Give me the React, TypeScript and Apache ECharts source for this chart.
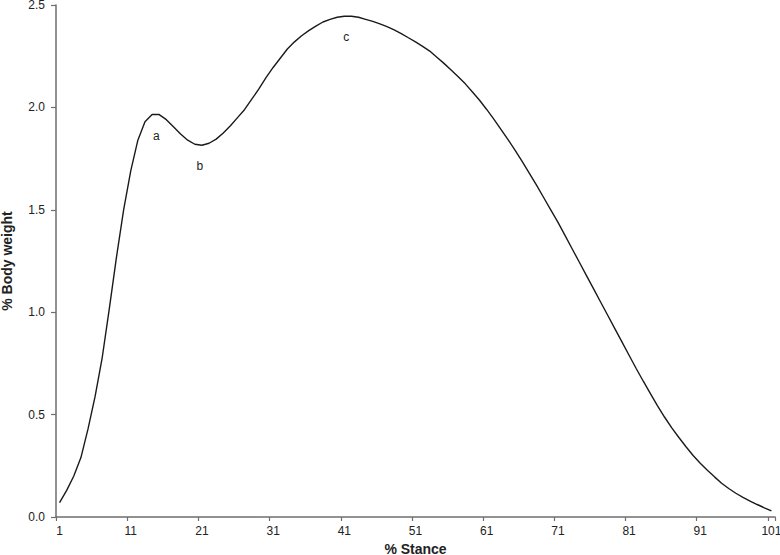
import React, { useEffect, useRef } from "react";
import * as echarts from "echarts";

const stance: string[] = Array.from({ length: 101 }, (_, i) => String(i + 1));

const bodyWeight: number[] = [
  0.07, 0.13, 0.2, 0.29, 0.43, 0.59, 0.78, 1.02, 1.27, 1.5,
  1.69, 1.84, 1.93, 1.965, 1.965, 1.94, 1.905, 1.87, 1.84, 1.82,
  1.815, 1.825, 1.845, 1.875, 1.91, 1.95, 1.99, 2.04, 2.09, 2.145,
  2.195, 2.24, 2.285, 2.32, 2.35, 2.375, 2.397, 2.417, 2.43, 2.44,
  2.445, 2.445, 2.44, 2.43, 2.42, 2.408, 2.394, 2.378, 2.36, 2.34,
  2.32, 2.298, 2.275, 2.245, 2.215, 2.183, 2.15, 2.115, 2.075, 2.035,
  1.99, 1.943, 1.893, 1.843, 1.79, 1.735, 1.678, 1.62, 1.56, 1.5,
  1.44, 1.375, 1.31, 1.245, 1.18, 1.115, 1.05, 0.985, 0.92, 0.855,
  0.79, 0.725, 0.663, 0.602, 0.543, 0.487, 0.435, 0.388, 0.343, 0.3,
  0.262, 0.228, 0.196, 0.165, 0.139, 0.116, 0.096, 0.078, 0.061, 0.045,
  0.03,
];

const annotations: { text: string; stance: string; value: number; dx: number }[] = [
  { text: "a", stance: "15", value: 1.86, dx: -3 },
  { text: "b", stance: "21", value: 1.714, dx: -2 },
  { text: "c", stance: "41", value: 2.343, dx: 2 },
];

const FONT = "'Liberation Sans', Arial, sans-serif";

export default function App() {
  const ref = useRef<HTMLDivElement>(null);
  useEffect(() => {
    if (!ref.current) return;
    const chart = echarts.init(ref.current, null, { renderer: "svg" });
    const axisColor = "#6e6e6e";
    const labelStyle = { fontSize: 12, color: "#222", fontFamily: FONT };
    chart.setOption({
      animation: false,
      backgroundColor: "#ffffff",
      textStyle: { fontFamily: FONT },
      grid: { left: 56, right: 5, top: 5, bottom: 38, containLabel: false, outerBoundsMode: "none" },
      xAxis: {
        type: "category",
        data: stance,
        boundaryGap: true,
        name: "% Stance",
        nameLocation: "middle",
        nameGap: 24,
        nameTextStyle: { fontFamily: FONT, fontSize: 14, fontWeight: "bold", color: "#222" },
        axisLine: { lineStyle: { color: axisColor, width: 1.5 } },
        axisTick: { show: true, interval: 9, length: 4, lineStyle: { color: axisColor, width: 1.2 } },
        axisLabel: { interval: 9, margin: 8, ...labelStyle },
        splitLine: { show: false },
      },
      yAxis: {
        type: "value",
        min: 0,
        max: 2.5,
        interval: 0.5,
        name: "% Body weight",
        nameLocation: "middle",
        nameGap: 42,
        nameTextStyle: { fontFamily: FONT, fontSize: 14, fontWeight: "bold", color: "#222" },
        axisLine: { show: true, lineStyle: { color: axisColor, width: 1.5 } },
        axisTick: { show: true, length: 5, lineStyle: { color: axisColor, width: 1.2 } },
        axisLabel: {
          margin: 11,
          ...labelStyle,
          formatter: (v: number) => v.toFixed(1),
        },
        splitLine: { show: false },
      },
      series: [
        {
          type: "line",
          data: bodyWeight,
          showSymbol: false,
          symbol: "none",
          color: "#1a1a1a",
          lineStyle: { color: "#1a1a1a", width: 1.4 },
        },
      ],
    });
    const texts = annotations.map((a) => {
      const p = chart.convertToPixel({ gridIndex: 0 }, [a.stance, a.value]) as number[];
      return {
        type: "text",
        x: p[0] + a.dx,
        y: p[1],
        style: {
          text: a.text,
          fill: "#222",
          font: `12px ${FONT}`,
          align: "center",
          verticalAlign: "middle",
        },
      };
    });
    chart.setOption({ graphic: texts });
    return () => chart.dispose();
  }, []);
  return (
    <div
      ref={ref}
      style={{ position: "fixed", left: 0, top: 0, width: 780, height: 555, background: "#fff" }}
    />
  );
}
